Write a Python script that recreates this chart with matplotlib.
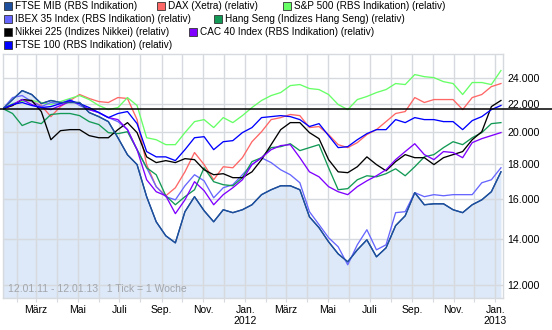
import matplotlib
matplotlib.use("Agg")
import matplotlib.pyplot as plt
import matplotlib.dates as mdates
import matplotlib.transforms as mtransforms
from matplotlib.patches import Rectangle
import pandas as pd

# ---------------- data (biweekly, index points, relative to FTSE MIB) ----------------
dates = pd.date_range("2011-01-12", periods=53, freq="14D")

ftse_mib = [21650, 22320, 23000, 22700, 22020, 22250, 22100, 22100, 22100, 21370, 21080, 20730,
            19640, 18550, 17950, 16120, 14820, 14140, 13810, 15330, 16120, 15380,
            14820, 15430, 15280, 15430, 15690, 16230, 16500, 16720, 16720, 16500,
            15070, 14530, 13860, 13310, 12960, 13490, 13950, 13180, 13580, 14630,
            15120, 16340, 15690, 15740, 15740, 15430, 15280, 15690, 15950, 16390, 17520]
dax = [21650, 21880, 22320, 22170, 21880, 21080, 21800, 22250, 22700, 22400, 22170, 22100,
       22470, 22400, 20870, 17950, 16670, 16170, 16610, 17520, 18690, 17950,
       17060, 17820, 17760, 18370, 19380, 20040, 20870, 21010, 21230, 21150,
       20320, 20390, 19850, 19190, 19000, 19320, 19850, 20180, 20730, 21300,
       21440, 22470, 22100, 22320, 22320, 22320, 21580, 22470, 22700, 23310, 23550]
sp500 = [21650, 22020, 22170, 22250, 22100, 21950, 22170, 22400, 22620, 22320, 21880, 21580,
         21730, 22470, 21880, 19640, 19510, 19190, 19190, 19980, 20730, 20870,
         20320, 21010, 20660, 21150, 21730, 22250, 22620, 22850, 23390, 23470,
         23160, 23080, 22700, 21950, 21580, 22320, 22550, 22850, 23080, 23550,
         23470, 24270, 24100, 24020, 23700, 23550, 22700, 23630, 23630, 23470, 24600]
ibex = [21650, 22470, 22620, 22170, 21800, 22100, 22020, 22320, 21880, 21580, 21370, 21010,
        20730, 20180, 18870, 17760, 16670, 16120, 15950, 16720, 17350, 17000,
        16060, 16610, 16780, 17350, 17950, 18360, 18070, 17640, 17350, 16890,
        15330, 14680, 14050, 13630, 12830, 13720, 14430, 13490, 13720, 15280,
        15330, 16340, 16120, 16230, 16170, 16230, 16230, 16230, 16890, 17060, 17760]
hang_seng = [21650, 21300, 20460, 20730, 20590, 21230, 21300, 21300, 21150, 20730, 20530, 19980,
             19910, 20040, 18870, 17760, 17350, 16170, 15690, 16120, 16500, 17760,
             16950, 16780, 16720, 17180, 18130, 18370, 19000, 19060, 19250, 18810,
             19000, 19190, 17760, 16500, 16560, 17060, 17290, 17230, 17410, 17700,
             17290, 17820, 18420, 18560, 19000, 19380, 19190, 19640, 19980, 20590, 20660]
nikkei = [21650, 21880, 22320, 22250, 21440, 19510, 20110, 20180, 20180, 19780, 19640, 19640,
          20180, 20660, 19980, 18420, 18070, 18190, 18070, 18310, 18250, 17640,
          17350, 17410, 17180, 17180, 17520, 18250, 19190, 20180, 20660, 20660,
          19980, 19580, 18250, 17520, 17470, 17820, 18420, 17950, 17580, 18130,
          18560, 18370, 18370, 17950, 18370, 18560, 18750, 19510, 20040, 21800, 22250]
cac40 = [21650, 21950, 22320, 21950, 21730, 21580, 21880, 22170, 22020, 21580, 21370, 21010,
         20870, 20180, 18870, 17060, 16390, 16170, 15230, 15950, 16950, 16450,
         15690, 16230, 16610, 17060, 17950, 18370, 18870, 19130, 19190, 18370,
         17520, 17230, 16670, 16390, 16230, 16670, 17000, 17290, 17640, 18250,
         18750, 19250, 18560, 18250, 18750, 18690, 18370, 19320, 19580, 19780, 19980]
ftse100 = [21650, 21950, 22100, 21880, 21730, 21800, 22020, 22250, 22020, 21730, 21370, 21010,
           21300, 21440, 20590, 18750, 18420, 18420, 18190, 18870, 19640, 19710,
           18870, 19380, 19450, 19980, 20320, 21010, 21080, 21150, 21080, 20870,
           20390, 20590, 19780, 19000, 19060, 19510, 19910, 20180, 20180, 20870,
           20660, 21010, 20870, 20870, 20730, 20730, 20180, 20800, 21080, 21580, 21880]

series_names = ["FTSE MIB (RBS Indikation)", "DAX (Xetra) (relativ)", "S&P 500 (RBS Indikation) (relativ)",
                "IBEX 35 Index (RBS Indikation) (relativ)", "Hang Seng (Indizes Hang Seng) (relativ)",
                "Nikkei 225 (Indizes Nikkei) (relativ)", "CAC 40 Index (RBS Indikation) (relativ)",
                "FTSE 100 (RBS Indikation) (relativ)"]
series_values = [ftse_mib, dax, sp500, ibex, hang_seng, nikkei, cac40, ftse100]
series_colors = ["#1d4f9c", "#ff6666", "#66ff66", "#6666ff", "#129955", "#000000", "#7f00ff", "#0000ff"]

y_ticks = [12000, 14000, 16000, 18000, 20000, 22000, 24000]
y_tick_labels = ["12.000", "14.000", "16.000", "18.000", "20.000", "22.000", "24.000"]
month_ticks = pd.date_range("2011-02-01", "2013-01-01", freq="MS")
month_labels = ["", "März", "", "Mai", "", "Juli", "", "Sep.", "", "Nov.", "", "Jan.\n2012",
                "", "März", "", "Mai", "", "Juli", "", "Sep.", "", "Nov.", "", "Jan.\n2013"]
range_note = "12.01.11 - 12.01.13   1 Tick = 1 Woche"

# ---------------- figure ----------------
W, H = 552, 330
fig = plt.figure(figsize=(W / 100, H / 100), dpi=100)
fig.patch.set_facecolor("white")
FONT = "Liberation Sans"

left, right, top, bottom = 3, 503, 54, 298
ax = fig.add_axes([left / W, 1 - bottom / H, (right - left) / W, (bottom - top) / H])
ax.set_yscale("log")
ax.set_ylim(11480, 26000)
ax.set_xlim(pd.Timestamp("2011-01-12"), pd.Timestamp("2013-01-12"))

grid_c = "#d6d9de"
for s in ax.spines.values():
    s.set_color(grid_c)
    s.set_linewidth(1.0)

# fill under FTSE MIB
ax.fill_between(dates, ftse_mib, 11000, color="#dde8f8", lw=0, zorder=1)

# grid
ax.set_yticks(y_ticks)
ax.set_yticklabels(y_tick_labels)
ax.minorticks_off()
ax.set_xticks(month_ticks)
ax.set_xticklabels(month_labels)
ax.grid(True, color=grid_c, lw=1.0, zorder=1.5)
ax.set_axisbelow(False)
for gl in ax.get_xgridlines() + ax.get_ygridlines():
    gl.set_zorder(1.5)

ax.yaxis.tick_right()
ax.tick_params(axis="y", length=0, pad=3, labelsize=7.7, labelcolor="black")
ax.tick_params(axis="x", length=3, color=grid_c, pad=2, labelsize=7.5)
for lab in ax.get_xticklabels() + ax.get_yticklabels():
    lab.set_family(FONT)
    lab.set_linespacing(1.1)

# lines
for vals, col in zip(series_values, series_colors):
    ax.plot(dates, vals, color=col, lw=0.95, zorder=3)
ax.plot(dates, ftse_mib, color=series_colors[0], lw=0.95, zorder=3.5)

# reference line at start level (extends across figure)
trans = mtransforms.blended_transform_factory(ax.transAxes, ax.transData)
ax.plot([-left / (right - left), (W - left) / (right - left)], [ftse_mib[0], ftse_mib[0]],
        transform=trans, color="black", lw=1.1, clip_on=False, zorder=4)

# range note
ax.text(5 / (right - left), (bottom - 289) / (bottom - top), range_note, transform=ax.transAxes,
        fontsize=7.5, color="#a3a6ab", family=FONT, va="center", ha="left", zorder=5)

# legend (manual)
legend_pos = [(4, 6), (157, 6), (283, 6), (4, 19), (214, 19), (4, 32), (189, 32), (4, 45)]
for (px, py), name, col in zip(legend_pos, series_names, series_colors):
    fig.patches.append(Rectangle(((px) / W, 1 - (py + 4) / H), 8 / W, 8 / H,
                                 transform=fig.transFigure, facecolor=col,
                                 edgecolor="#333333", lw=0.6))
    fig.text((px + 11) / W, 1 - py / H, name, fontsize=7.2, family=FONT,
             va="center", ha="left", color="black")

fig.savefig("out.png", dpi=100)
